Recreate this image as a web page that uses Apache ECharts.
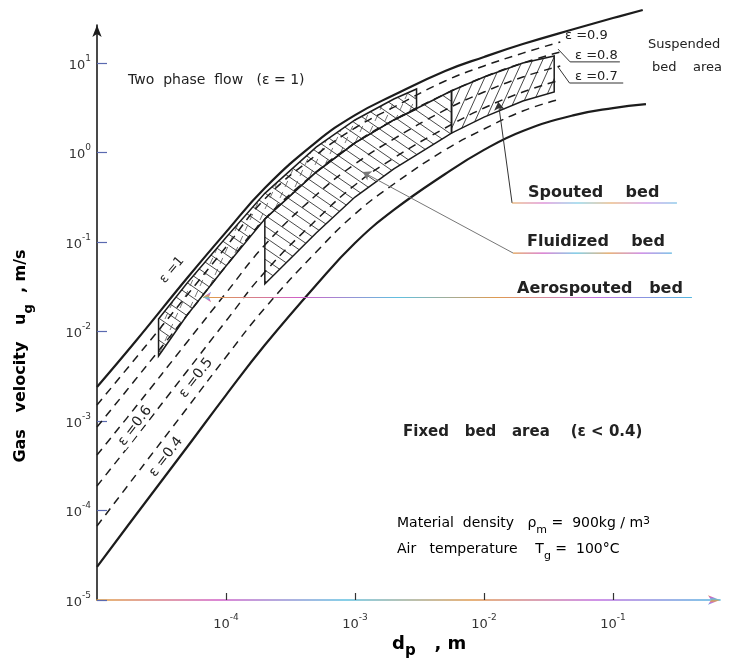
<!DOCTYPE html>
<html><head><meta charset="utf-8">
<script src="https://cdn.jsdelivr.net/npm/echarts@6/dist/echarts.min.js"></script>
<style>html,body{margin:0;padding:0;background:#fff}#c{width:741px;height:671px}</style>
</head><body><div id="c"></div>
<script>
// ---------- tick values ----------
const xTicks = [1e-4, 1e-3, 1e-2, 1e-1];
const yTicks = [1e-5, 1e-4, 1e-3, 1e-2, 1e-1, 1, 10];

// ---------- boundary curves (dp [m], ug [m/s]) ----------
const xEps1  = [1e-5, 2e-5, 5e-5, 1e-4, 2e-4, 5e-4, 1e-3, 2e-3, 5e-3, 1e-2, 2e-2, 5e-2, 1e-1, 0.17];
const eps1   = [2.40e-3, 7.83e-3, 3.96e-2, 0.129, 0.402, 1.31, 2.62, 4.39, 8.14, 11.7, 16.3, 24.0, 31.8, 39.1];
const xEps04 = [1e-5, 2e-5, 5e-5, 1e-4, 2e-4, 5e-4, 1e-3, 2e-3, 5e-3, 1e-2, 2e-2, 5e-2, 1e-1, 0.18];
const eps04  = [2.34e-5, 8.91e-5, 5.12e-4, 1.95e-3, 7.06e-3, 3.31e-2, 9.75e-2, 0.228, 0.575, 1.07, 1.74, 2.62, 3.14, 3.48];

// dashed voidage lines
const xDash = [1e-5, 2e-5, 5e-5, 1e-4, 2e-4, 5e-4, 1e-3, 2e-3, 5e-3, 1e-2, 2e-2, 3.9e-2];
const eps09 = [1.51e-3, 5.06e-3, 2.56e-2, 8.79e-2, 0.303, 0.938, 1.88, 3.22, 6.30, 9.27, 12.9, 17.2];
const eps08 = [8.57e-4, 2.94e-3, 1.53e-2, 5.40e-2, 0.181, 0.605, 1.28, 2.31, 4.51, 6.98, 10.0, 13.3];
const eps07 = [4.17e-4, 1.44e-3, 7.64e-3, 2.69e-2, 9.27e-2, 0.335, 0.745, 1.42, 2.99, 4.74, 6.98, 9.27];
const eps06 = [1.88e-4, 6.62e-4, 3.62e-3, 1.31e-2, 4.62e-2, 0.176, 0.434, 0.869, 1.88, 3.14, 4.74, 6.46];
const eps05 = [6.71e-5, 2.49e-4, 1.40e-3, 5.19e-3, 1.83e-2, 7.73e-2, 0.206, 0.445, 1.07, 1.83, 2.91, 3.96];

// ---------- bed regions ----------
const aeroX   = [3.0e-5, 5e-5, 1e-4, 2e-4, 5e-4, 1e-3, 2e-3, 3.0e-3];
const aeroTop = [1.38e-2, 3.48e-2, 0.112, 0.35, 1.15, 2.31, 3.96, 5.13];
const aeroBot = [5.32e-3, 1.53e-2, 5.40e-2, 0.181, 0.605, 1.28, 2.31, 3.06];

const fluidX   = [2e-4, 5e-4, 1e-3, 2e-3, 5e-3, 5.6e-3];
const fluidTop = [0.181, 0.605, 1.28, 2.31, 4.51, 4.9];
const fluidBot = [3.40e-2, 0.126, 0.318, 0.655, 1.49, 1.65];

const spoutX   = [5.6e-3, 1e-2, 2e-2, 3.5e-2];
const spoutTop = [4.9, 6.98, 10.0, 12.0];
const spoutBot = [1.65, 2.49, 3.77, 4.74];

// ---------- annotation leaders ----------
const spoutLeader = [[1.29e-2, 3.66], [1.65e-2, 0.273]];
const spoutUnder  = [[1.65e-2, 0.273], [0.313, 0.273]];
const fluidLeader = [[1.15e-3, 0.605], [1.68e-2, 7.53e-2]];
const fluidUnder  = [[1.68e-2, 7.53e-2], [0.286, 7.53e-2]];
const aeroLeader  = [[6.64e-5, 2.43e-2], [0.409, 2.43e-2]];
const eps08Leader = [[3.75e-2, 14.3], [4.65e-2, 10.3], [0.113, 10.3]];
const eps07Leader = [[3.75e-2, 9.02], [4.6e-2, 5.98], [0.120, 5.98]];

// ---------- helpers ----------
const FONT = '"DejaVu Sans", "Liberation Sans", sans-serif';
const INK = '#1c1c1c';
const pairs = (xs, ys) => xs.map((x, i) => [x, ys[i]]);

function hatchCanvas(W, H, fams) {
  const c = document.createElement('canvas');
  c.width = W; c.height = H;
  const g = c.getContext('2d');
  fams.forEach(f => {
    g.save();
    g.strokeStyle = f.color; g.lineWidth = f.lw;
    const L = Math.hypot(f.w, f.h);
    if (f.dash) g.setLineDash([L * 0.5 * f.dash, L * 0.5 * (1 - f.dash)]);
    const n = Math.ceil(W / f.w) + Math.ceil(H / f.h) + 4;
    for (let k = -n; k <= 2 * n; k++) {
      const x0 = k * f.w;
      g.beginPath();
      if (f.up) { g.moveTo(x0 - 60 * f.w, 60 * f.h); g.lineTo(x0 + 60 * f.w, -60 * f.h); }
      else { g.moveTo(x0 - 60 * f.w, -60 * f.h); g.lineTo(x0 + 60 * f.w, 60 * f.h); }
      g.stroke();
    }
    g.restore();
  });
  return c;
}
const famFluid = { w: 16, h: 11, up: false, color: '#333', lw: 0.9 };
const famSpout = { w: 10, h: 22, up: true, color: '#333', lw: 0.9 };
const famAeroUp = { w: 10, h: 22, up: true, color: '#555', lw: 0.8, dash: 0.55 };
const patAero  = { image: hatchCanvas(80, 22, [famFluid, famAeroUp]), repeat: 'repeat' };
const patFluid = { image: hatchCanvas(16, 11, [famFluid]), repeat: 'repeat' };
const patSpout = { image: hatchCanvas(10, 22, [famSpout]), repeat: 'repeat' };

function region(xs, top, bot, pattern) {
  return {
    type: 'custom', coordinateSystem: 'cartesian2d', silent: true, z: 1,
    data: [[xs[0], top[0]]],
    renderItem: (params, api) => {
      const pts = [];
      xs.forEach((x, i) => pts.push(api.coord([x, top[i]])));
      for (let i = xs.length - 1; i >= 0; i--) pts.push(api.coord([xs[i], bot[i]]));
      return { type: 'polygon', shape: { points: pts },
               style: { fill: pattern, stroke: INK, lineWidth: 1.5 } };
    }
  };
}
function curve(xs, ys, dashed) {
  return {
    type: 'line', data: pairs(xs, ys), smooth: 0.45, showSymbol: false, symbol: 'none',
    clip: false, silent: true, z: 3,
    lineStyle: dashed ? { color: INK, width: 1.5, type: [8, 6] } : { color: INK, width: 2.2 }
  };
}
const rainbow = () => new echarts.graphic.LinearGradient(0, 0, 1, 0, [
  { offset: 0, color: '#e0a040' }, { offset: 0.2, color: '#d060c8' },
  { offset: 0.4, color: '#60c0e0' }, { offset: 0.6, color: '#e09a50' },
  { offset: 0.8, color: '#c070e0' }, { offset: 1, color: '#50b8e0' }]);

const tickRich = {
  b: { fontSize: 13, fontFamily: FONT, color: '#333', lineHeight: 18, verticalAlign: 'bottom' },
  s: { fontSize: 9, fontFamily: FONT, color: '#333', lineHeight: 9, verticalAlign: 'top' }
};
const powLabel = v => '{b|10}{s|' + Math.round(Math.log10(v)) + '}';

function txt(x, y, text, size, opt) {
  opt = opt || {};
  const st = {
    text, fill: '#222', font: (opt.weight || 'normal') + ' ' + size + 'px ' + FONT,
    textAlign: opt.align || 'left', textVerticalAlign: 'middle'
  };
  if (opt.bg) { st.backgroundColor = '#fff'; st.padding = [0, 2]; }
  return { type: 'text', x, y, rotation: opt.rot || 0, style: st, z: 10, silent: true };
}
const richSub = (size, w) => ({
  a: { fontSize: size, fontFamily: FONT, fontWeight: w, color: '#222', lineHeight: size + 6, verticalAlign: 'top' },
  g: { fontSize: size - 3, fontFamily: FONT, fontWeight: w, color: '#222', lineHeight: 8, verticalAlign: 'bottom' },
  p: { fontSize: size - 3, fontFamily: FONT, fontWeight: w, color: '#222', lineHeight: 8, verticalAlign: 'top' }
});
function richTxt(x, y, text, size, w, opt) {
  opt = opt || {};
  return { type: 'text', x, y, rotation: opt.rot || 0, z: 10, silent: true,
           style: { text, rich: richSub(size, w), textAlign: opt.align || 'left', textVerticalAlign: 'middle' } };
}

const chart = echarts.init(document.getElementById('c'));
chart.setOption({
  backgroundColor: '#ffffff',
  animation: false,
  grid: { left: 97, right: 21, top: 25, bottom: 71, containLabel: false },
  xAxis: {
    type: 'log', logBase: 10, min: 1e-5, max: 0.675,
    axisLine: { show: true, onZero: false, symbol: ['none', 'arrow'], symbolSize: [7, 12],
                lineStyle: { color: rainbow(), width: 1.6 } },
    axisTick: { show: true, inside: true, length: 7, customValues: xTicks, lineStyle: { color: '#333', width: 1.2 } },
    axisLabel: { customValues: xTicks, formatter: powLabel, rich: tickRich, margin: 13 },
    splitLine: { show: false }, minorTick: { show: false }
  },
  yAxis: {
    type: 'log', logBase: 10, min: 1e-5, max: 26.6,
    axisLine: { show: true, onZero: false, symbol: ['none', 'arrow'], symbolSize: [7, 12],
                lineStyle: { color: INK, width: 1.6 } },
    axisTick: { show: true, inside: true, length: 10, customValues: yTicks, lineStyle: { color: '#5a6ab0', width: 1.2 } },
    axisLabel: { customValues: yTicks, formatter: powLabel, rich: tickRich, margin: 6 },
    splitLine: { show: false }, minorTick: { show: false }
  },
  series: [
    region(aeroX, aeroTop, aeroBot, patAero),
    region(fluidX, fluidTop, fluidBot, patFluid),
    region(spoutX, spoutTop, spoutBot, patSpout),
    curve(xEps1, eps1, false),
    curve(xEps04, eps04, false),
    curve(xDash, eps09, true),
    curve(xDash, eps08, true),
    curve(xDash, eps07, true),
    curve(xDash, eps06, true),
    curve(xDash, eps05, true),
    {
      type: 'lines', coordinateSystem: 'cartesian2d', silent: true, z: 5,
      symbol: ['arrow', 'none'], symbolSize: 8,
      lineStyle: { color: '#333', width: 1, opacity: 1 },
      data: [
        { coords: spoutLeader, lineStyle: { color: '#333', width: 1 } },
        { coords: fluidLeader, lineStyle: { color: '#777', width: 1 } },
        { coords: aeroLeader, lineStyle: { color: rainbow(), width: 1.2 } }
      ]
    },
    {
      type: 'lines', coordinateSystem: 'cartesian2d', polyline: true, silent: true, z: 5,
      lineStyle: { color: '#333', width: 1, opacity: 1 },
      data: [
        { coords: spoutUnder, lineStyle: { color: rainbow(), width: 1.2 } },
        { coords: fluidUnder, lineStyle: { color: rainbow(), width: 1.2 } },
        { coords: eps08Leader, lineStyle: { color: '#333', width: 1 } },
        { coords: eps07Leader, lineStyle: { color: '#333', width: 1 } }
      ]
    }
  ],
  graphic: [
    txt(128, 80, 'Two  phase  flow   (ε = 1)', 14),
    txt(648, 45, 'Suspended', 13),
    txt(652, 68, 'bed    area', 13),
    txt(565, 36, 'ε =0.9', 13),
    txt(575, 56, 'ε =0.8', 13),
    txt(575, 77, 'ε =0.7', 13),
    txt(528, 193, 'Spouted    bed', 16, { weight: 'bold' }),
    txt(527, 242, 'Fluidized    bed', 16, { weight: 'bold' }),
    txt(517, 289, 'Aerospouted   bed', 16, { weight: 'bold' }),
    txt(403, 432, 'Fixed   bed   area    (ε < 0.4)', 15, { weight: 'bold' }),
    txt(172, 270, 'ε =1', 13, { align: 'center', rot: 0.87 }),
    txt(135, 426, 'ε =0.6', 14, { align: 'center', rot: 0.92, bg: true }),
    txt(196, 378, 'ε =0.5', 14, { align: 'center', rot: 0.92, bg: true }),
    txt(166, 457, 'ε =0.4', 14, { align: 'center', rot: 0.92 }),
    richTxt(397, 526, '{a|Material  density   ρ}{g|m}{a| =  900kg / m}{p|3}', 14, 'normal'),
    richTxt(397, 552, '{a|Air   temperature    T}{g|g}{a| =  100°C}', 14, 'normal'),
    richTxt(24, 356, '{a|Gas   velocity   u}{g|g}{a|  , m/s}', 16, 'bold', { rot: Math.PI / 2, align: 'center' }),
    richTxt(392, 647, '{a|d}{g|p}{a|   , m}', 18, 'bold')
  ]
});
</script></body></html>
